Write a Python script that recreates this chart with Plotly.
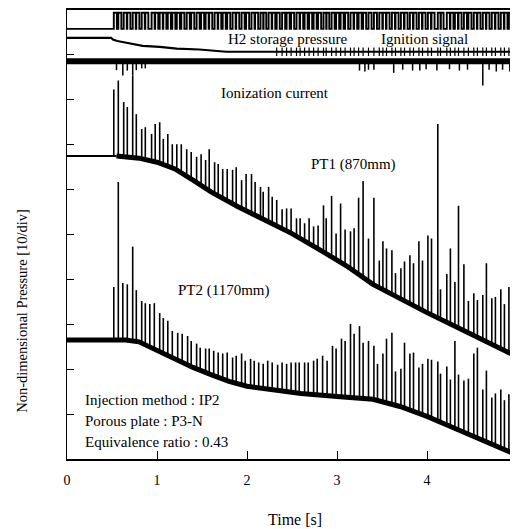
import numpy as np
import plotly.graph_objects as go

# ---------------- data ----------------
x_ticks = [0, 1, 2, 3, 4, 5]

# PT1 (870mm) baseline trend
pt1_base_t = [0.0, 0.55, 0.8, 1.0, 1.2, 1.4, 1.6, 1.9, 2.2, 2.5, 2.8, 3.1, 3.4, 3.7, 4.0, 4.3, 4.6, 5.0]
pt1_base_v = [67.5, 67.5, 67.0, 66.1, 64.6, 62.1, 59.5, 56.2, 53.1, 50.2, 46.7, 43.1, 38.9, 35.6, 32.6, 29.7, 26.8, 22.8]

# PT1 pressure spikes (time, peak value)
pt1_t = [0.52, 0.57, 0.63, 0.67, 0.73, 0.77, 0.83, 0.87, 0.94, 0.98,
         1.03, 1.07, 1.12, 1.17, 1.22, 1.27, 1.33, 1.38, 1.44, 1.49,
         1.54, 1.58, 1.64, 1.68, 1.73, 1.78, 1.84, 1.88, 1.94, 1.99,
         2.05, 2.09, 2.15, 2.18, 2.24, 2.28, 2.33, 2.39, 2.44, 2.49,
         2.55, 2.59, 2.64, 2.69, 2.74, 2.79, 2.85, 2.88, 2.94, 2.99,
         3.04, 3.09, 3.15, 3.19, 3.24, 3.29, 3.35, 3.41, 3.47, 3.51,
         3.55, 3.61, 3.65, 3.71, 3.75, 3.81, 3.85, 3.91, 3.95, 4.01,
         4.05, 4.12, 4.15, 4.22, 4.26, 4.31, 4.35, 4.41, 4.46, 4.52,
         4.56, 4.62, 4.66, 4.72, 4.76, 4.82, 4.86, 4.91, 4.96]
pt1_peak = [82.3, 84.3, 79.5, 78.4, 85.4, 76.8, 73.5, 73.9, 72.4, 74.6,
            75.0, 71.3, 72.4, 70.1, 70.1, 70.1, 69.0, 68.4, 67.3, 67.9,
            66.6, 69.0, 66.1, 65.7, 64.6, 64.6, 64.4, 65.0, 62.1, 63.5,
            63.5, 61.7, 60.6, 59.5, 60.6, 58.4, 57.7, 55.6, 55.8, 55.8,
            53.6, 53.6, 52.5, 53.6, 51.8, 52.0, 56.5, 53.6, 58.6, 50.2,
            56.9, 51.1, 50.7, 51.4, 58.2, 61.9, 49.1, 58.2, 44.2, 48.5,
            46.9, 46.5, 41.4, 42.5, 44.0, 45.4, 43.6, 48.5, 44.2, 49.8,
            49.1, 74.6, 37.8, 41.2, 46.9, 39.4, 56.4, 43.4, 35.2, 36.9,
            35.4, 36.5, 43.6, 35.8, 36.1, 37.8, 34.5, 38.3, 41.8]

# PT2 (1170mm) baseline trend
pt2_base_t = [0.0, 0.65, 0.8, 1.0, 1.2, 1.4, 1.6, 1.8, 2.0, 2.3, 2.6, 3.0, 3.4, 3.7, 4.0, 4.3, 4.6, 5.0]
pt2_base_v = [26.5, 26.5, 26.1, 24.1, 22.1, 20.4, 18.8, 17.3, 16.2, 15.3, 14.6, 13.9, 13.3, 11.7, 9.5, 6.9, 4.2, 0.9]

# PT2 pressure spikes (time, peak value)
pt2_t = [0.52, 0.57, 0.62, 0.67, 0.73, 0.77, 0.83, 0.87, 0.92, 0.97,
         1.03, 1.07, 1.12, 1.17, 1.23, 1.28, 1.34, 1.38, 1.44, 1.48,
         1.54, 1.58, 1.63, 1.68, 1.73, 1.78, 1.84, 1.88, 1.94, 1.98,
         2.04, 2.08, 2.13, 2.18, 2.23, 2.28, 2.34, 2.39, 2.44, 2.49,
         2.54, 2.58, 2.64, 2.68, 2.74, 2.78, 2.84, 2.89, 2.95, 2.99,
         3.05, 3.09, 3.15, 3.19, 3.25, 3.29, 3.35, 3.41, 3.45, 3.51,
         3.55, 3.61, 3.65, 3.71, 3.75, 3.81, 3.85, 3.91, 3.95, 4.01,
         4.05, 4.12, 4.15, 4.22, 4.26, 4.31, 4.35, 4.41, 4.46, 4.52,
         4.56, 4.62, 4.66, 4.72, 4.76, 4.82, 4.86, 4.91, 4.96]
pt2_peak = [38.3, 61.7, 39.2, 38.9, 47.3, 37.6, 35.2, 34.7, 34.5, 34.7,
            32.5, 31.4, 30.8, 28.5, 28.1, 27.9, 27.4, 26.3, 25.7, 24.8,
            24.6, 24.6, 24.1, 23.7, 23.5, 23.7, 22.6, 23.0, 23.5, 21.9,
            22.3, 21.9, 21.5, 21.2, 21.9, 21.5, 21.0, 21.5, 21.2, 21.5,
            21.5, 21.5, 21.5, 21.5, 21.9, 22.3, 23.0, 21.9, 25.2, 24.6,
            26.8, 26.3, 30.1, 27.9, 29.6, 25.9, 26.3, 25.2, 21.2, 23.5,
            26.8, 28.1, 19.5, 20.1, 25.9, 23.5, 23.7, 20.4, 21.2, 22.3,
            22.1, 21.7, 19.0, 20.6, 17.7, 26.3, 18.8, 17.5, 17.9, 23.5,
            24.8, 15.5, 19.7, 13.7, 14.6, 15.5, 13.1, 14.4, 13.1]

# Ionization current: level and downward spikes
ion_t = [0.0, 5.0]
ion_v = [88.6, 88.6]
ion_spk_t = [0.55, 0.62, 0.67, 0.73, 0.77, 0.83, 0.87, 3.25, 3.31, 3.35,
             3.41, 3.63, 3.73, 3.84, 3.92, 3.99, 4.11, 4.25, 4.36, 4.45,
             4.62, 4.69, 4.77, 4.84, 4.92, 4.97]
ion_spk_v = [86.6, 85.4, 86.5, 85.4, 86.6, 87.0, 87.0, 86.5, 86.3, 86.7,
             86.7, 86.0, 86.7, 86.5, 86.5, 86.8, 86.5, 86.8, 86.5, 86.7,
             83.2, 86.7, 86.3, 86.7, 86.3, 86.7]

# H2 storage pressure
h2_t = [0.0, 0.49, 0.51, 0.56, 0.66, 0.84, 1.03, 1.22, 1.47, 1.77, 5.0]
h2_v = [93.8, 93.8, 93.4, 93.1, 92.7, 92.0, 91.8, 91.4, 91.2, 90.7, 90.7]

# Ignition signal: baseline level, pulse top, pulse times (same firing events)
ign_base = 95.8
ign_top = 99.4
ign_t = pt1_t

# ---------------- helpers to build marks ----------------
def spikes(ts, peaks, bt, bv):
    xs, ys = [], []
    for t, p in zip(ts, peaks):
        f = float(np.interp(t, bt, bv))
        xs += [t, t, None]
        ys += [f, p, None]
    return xs, ys

def pulses(ts, base, top, w=0.034):
    xs, ys = [0.0], [base]
    for t in ts:
        xs += [t, t, t + w, t + w]
        ys += [base, top, top, base]
    xs.append(5.0)
    ys.append(base)
    return xs, ys

blk = "black"
fig = go.Figure()

def line(x, y, w):
    fig.add_trace(go.Scatter(x=x, y=y, mode="lines", line=dict(color=blk, width=w),
                             hoverinfo="skip", showlegend=False, connectgaps=False))

# PT1
b1t = np.array(pt1_base_t); b1v = np.array(pt1_base_v)
pre = b1t <= 0.55
post = b1t >= 0.55
line(b1t[pre], b1v[pre], 2)
line(b1t[post], b1v[post], 5)
sx, sy = spikes(pt1_t, pt1_peak, pt1_base_t, pt1_base_v)
line(sx, sy, 1.6)

# PT2
line(pt2_base_t, pt2_base_v, 5)
sx, sy = spikes(pt2_t, pt2_peak, pt2_base_t, pt2_base_v)
line(sx, sy, 1.6)

# Ionization current
line(ion_t, ion_v, 6)
sx, sy = spikes(ion_spk_t, ion_spk_v, ion_t, ion_v)
line(sx, sy, 1.5)

# H2 storage pressure (line with the small noise ticks seen at each firing)
line(h2_t, h2_v, 2.2)
h2_mark_t = [t for t in ign_t if t >= 2.3]
fig.add_trace(go.Scatter(x=h2_mark_t, y=np.interp(h2_mark_t, h2_t, h2_v), mode="markers",
                         marker=dict(symbol="line-ns", size=6, line=dict(color=blk, width=1.2)),
                         hoverinfo="skip", showlegend=False, cliponaxis=True))

# Ignition signal
px, py = pulses(ign_t, ign_base, ign_top)
line(px, py, 1.9)

serif = "Liberation Serif, Times New Roman, serif"
ann_font = dict(family=serif, size=15, color=blk)
annotations = [
    dict(x=2.45, y=93.6, text="H2 storage pressure", xanchor="center", yanchor="middle"),
    dict(x=3.97, y=93.6, text="Ignition signal", xanchor="center", yanchor="middle"),
    dict(x=2.31, y=81.6, text="Ionization current", xanchor="center", yanchor="middle"),
    dict(x=3.18, y=65.5, text="PT1 (870mm)", xanchor="center", yanchor="middle"),
    dict(x=1.74, y=37.6, text="PT2 (1170mm)", xanchor="center", yanchor="middle"),
    dict(x=0.18, y=13.1, text="Injection method : IP2", xanchor="left", yanchor="middle"),
    dict(x=0.18, y=8.4, text="Porous plate : P3-N", xanchor="left", yanchor="middle"),
    dict(x=0.18, y=3.7, text="Equivalence ratio : 0.43", xanchor="left", yanchor="middle"),
]
for a in annotations:
    a.update(xref="x", yref="y", showarrow=False, font=ann_font, bgcolor="rgba(0,0,0,0)")

annotations.append(dict(x=0.507, y=-0.135, xref="paper", yref="paper", text="Time [s]",
                        showarrow=False, xanchor="center", yanchor="middle",
                        font=dict(family=serif, size=16, color=blk)))
annotations.append(dict(x=-0.10, y=0.33, xref="paper", yref="paper",
                        text="Non-dimensional Pressure [10/div]", textangle=-90,
                        showarrow=False, xanchor="center", yanchor="middle",
                        font=dict(family=serif, size=14.5, color=blk)))

# page body has an 8px margin, so the figure is sized/placed to land on the same pixels
fig.update_layout(
    width=530, height=521,
    margin=dict(l=59, r=21, t=0, b=70),
    paper_bgcolor="white", plot_bgcolor="white",
    showlegend=False,
    annotations=annotations,
    xaxis=dict(range=[0, 5], tickvals=x_ticks, ticktext=[str(v) for v in x_ticks],
               ticks="inside", ticklen=8, tickwidth=1, tickcolor=blk,
               showline=True, linecolor=blk, linewidth=1.5, mirror=True,
               showgrid=False, zeroline=False, ticklabelstandoff=7,
               ticklabeloverflow="allow",
               tickfont=dict(family=serif, size=14, color=blk)),
    yaxis=dict(range=[0, 100], dtick=10, ticks="inside", ticklen=7, tickwidth=1,
               tickcolor=blk, showline=True, linecolor=blk, linewidth=1,
               mirror="ticks", showgrid=False, zeroline=False, showticklabels=False),
)

fig.write_html("out.html")
